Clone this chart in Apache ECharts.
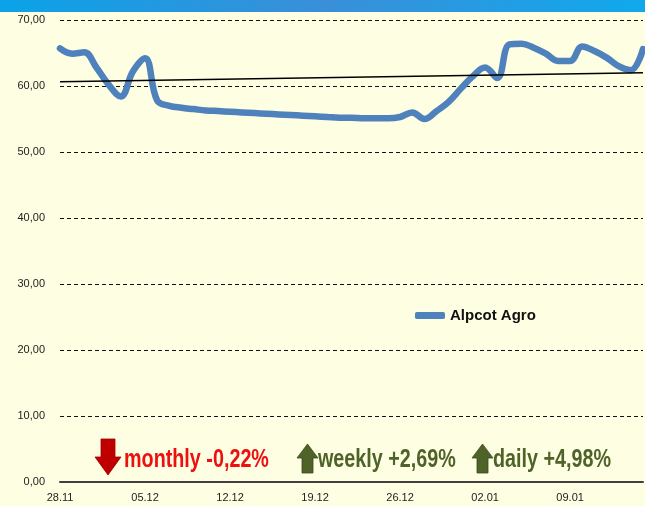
<!DOCTYPE html>
<html>
<head>
<meta charset="utf-8">
<script src="https://cdn.jsdelivr.net/npm/echarts@6/dist/echarts.min.js"></script>
<style>
  html, body { margin: 0; padding: 0; background: #fefee3; }
  #chart { width: 645px; height: 506px; }
</style>
</head>
<body>
<div id="chart"></div>
<script>
// dates (daily)
var dates = [
  '28.11', '29.11', '30.11',
  '01.12', '02.12', '03.12', '04.12', '05.12', '06.12', '07.12', '08.12', '09.12', '10.12',
  '11.12', '12.12', '13.12', '14.12', '15.12', '16.12', '17.12', '18.12', '19.12', '20.12',
  '21.12', '22.12', '23.12', '24.12', '25.12', '26.12', '27.12', '28.12', '29.12', '30.12', '31.12',
  '01.01', '02.01', '03.01', '04.01', '05.01', '06.01', '07.01', '08.01', '09.01', '10.01',
  '11.01', '12.01', '13.01', '14.01', '15.01'
]
// Alpcot Agro price
var prices = [
  65.7, 64.9, 65.1,
  62.8, 60.2, 58.4, 62.2, 64.2, 57.8, 57.0, 56.7, 56.5, 56.3,
  56.2, 56.1, 56.0, 55.9, 55.8, 55.7, 55.6, 55.5,
  55.4, 55.3, 55.2, 55.2, 55.1, 55.1, 55.1, 55.3, 56.0, 55.0, 56.2,
  57.6, 59.6, 61.5, 62.8, 61.2, 66.3, 66.4, 65.8, 64.9, 63.8,
  63.8, 66.0, 65.3, 64.3, 63.0, 62.4, 65.6
]
// trend line ends [index, value]
var trend = [[0, 60.65], [48, 62.0]]
var yTicks = { min: 0, max: 70, step: 10 }

var notes = [
  { text: 'monthly -0,22%', color: '#ee1010', up: false, arrow: '#c00000', x: 95 },
  { text: 'weekly +2,69%', color: '#4f6228', up: true, arrow: '#4f6228', x: 297 },
  { text: 'daily +4,98%', color: '#4f6228', up: true, arrow: '#4f6228', x: 472 }
]

var narrow = "'Liberation Sans Narrow', 'Arial Narrow', 'Liberation Sans', sans-serif"

// banner + arrows + text at the bottom
var graphics = [{
  type: 'rect',
  shape: { x: 0, y: 0, width: 645, height: 12 },
  style: {
    fill: new echarts.graphic.LinearGradient(0, 0, 1, 0, [
      { offset: 0, color: '#0ba3e8' },
      { offset: 0.5, color: '#3a8fd9' },
      { offset: 1, color: '#10a8ec' }
    ])
  }
}]
notes.forEach(function (n) {
  var x = n.x, pts
  if (n.up) {
    pts = [[x + 10.5, 444], [x + 21, 458], [x + 16, 458], [x + 16, 473], [x + 5, 473], [x + 5, 458], [x, 458]]
  } else {
    pts = [[x + 6, 439], [x + 20, 439], [x + 20, 457], [x + 26, 457], [x + 13, 475], [x, 457], [x + 6, 457]]
  }
  graphics.push({
    type: 'polygon',
    shape: { points: pts },
    style: { fill: n.arrow, stroke: n.up ? '#3a4a1e' : '#a00000', lineWidth: 0.8 }
  })
  graphics.push({
    type: 'text',
    x: x + (n.up ? 21 : 29),
    y: 460,
    scaleX: 0.76,
    style: {
      text: n.text,
      fill: n.color,
      font: 'bold 26px ' + narrow,
      verticalAlign: 'middle'
    }
  })
})

var chart = echarts.init(document.getElementById('chart'))
chart.setOption({
  backgroundColor: '#fefee3',
  animation: false,
  grid: { left: 60, right: 2, top: 20, bottom: 24 },
  legend: {
    left: 410,
    top: 303,
    data: ['Alpcot Agro'],
    icon: 'roundRect',
    itemWidth: 30,
    itemHeight: 7,
    itemGap: 2,
    textStyle: { color: '#111', fontSize: 15, fontWeight: 'bold', fontFamily: narrow }
  },
  xAxis: {
    type: 'category',
    data: dates,
    boundaryGap: false,
    axisLine: { lineStyle: { color: '#404040', width: 2 } },
    axisTick: { show: false },
    axisLabel: { interval: 6, color: '#222', fontSize: 11, fontFamily: narrow, margin: 10 },
    splitLine: { show: false }
  },
  yAxis: {
    type: 'value',
    min: yTicks.min,
    max: yTicks.max,
    interval: yTicks.step,
    axisLine: { show: false },
    axisTick: { show: false },
    axisLabel: {
      color: '#222', fontSize: 11, fontFamily: narrow, margin: 15,
      formatter: function (v) { return v.toFixed(2).replace('.', ',') }
    },
    splitLine: { lineStyle: { color: '#111', type: [4, 3], width: 1 } }
  },
  series: [
    {
      name: 'Alpcot Agro',
      type: 'line',
      data: prices,
      smooth: 0.4,
      showSymbol: false,
      symbol: 'none',
      lineStyle: { color: '#4f81bd', width: 6.5, cap: 'round', join: 'round' },
      itemStyle: { color: '#4f81bd' },
      z: 3
    },
    {
      name: 'trend',
      type: 'line',
      data: trend,
      symbol: 'none',
      lineStyle: { color: '#000', width: 1.5 },
      z: 4
    }
  ],
  graphic: graphics
})
</script>
</body>
</html>
